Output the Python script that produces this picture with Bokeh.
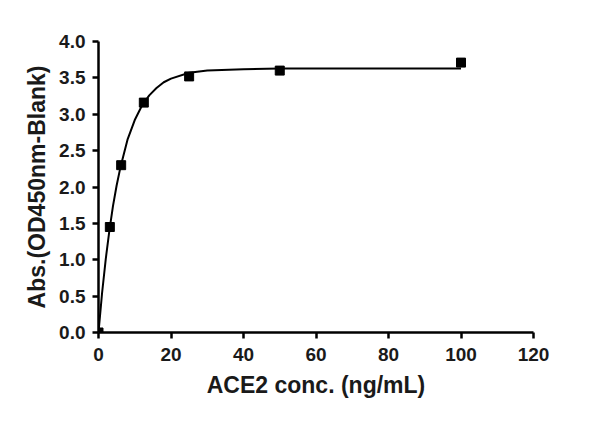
from bokeh.plotting import figure
from bokeh.embed import file_html
from bokeh.resources import INLINE
from bokeh.models import Range1d, FixedTicker

conc = [0, 3.125, 6.25, 12.5, 25, 50, 100]
absorb = [0.0, 1.45, 2.30, 3.16, 3.52, 3.60, 3.71]

fit_x = [0, 1, 2, 3, 4, 5, 6, 8, 10, 12, 14, 16, 18, 20, 25, 30, 40, 50, 60, 80, 100]
fit_y = [0.0, 0.55, 1.01, 1.40, 1.74, 2.02, 2.26, 2.65, 2.92, 3.12, 3.26, 3.36, 3.44,
         3.49, 3.57, 3.60, 3.62, 3.63, 3.63, 3.63, 3.63]

x_ticks = [0, 20, 40, 60, 80, 100, 120]
y_ticks = [0.0, 0.5, 1.0, 1.5, 2.0, 2.5, 3.0, 3.5, 4.0]

p = figure(width=584, height=406, output_backend="svg", toolbar_location=None,
           x_range=Range1d(0, 120), y_range=Range1d(0, 4),
           min_border_left=98, min_border_right=51, min_border_top=41, min_border_bottom=74)
p.outline_line_color = None
p.xgrid.visible = False
p.ygrid.visible = False

p.line(fit_x, fit_y, line_color="black", line_width=2)
p.scatter(conc, absorb, marker="square", size=9, fill_color="black", line_color="black")

for ax in (p.xaxis, p.yaxis):
    ax.axis_line_width = 2.5
    ax.axis_line_color = "black"
    ax.major_tick_line_width = 2.5
    ax.major_tick_line_color = "black"
    ax.major_tick_out = 6
    ax.major_tick_in = 0
    ax.minor_tick_line_color = None
    ax.major_label_text_font = "Liberation Sans"
    ax.major_label_text_font_style = "bold"
    ax.major_label_text_font_size = "19px"
    ax.major_label_text_color = "#1a1a1a"
    ax.axis_label_text_font = "Liberation Sans"
    ax.axis_label_text_font_style = "bold"
    ax.axis_label_text_font_size = "23px"
    ax.axis_label_text_color = "#1a1a1a"

p.xaxis.ticker = FixedTicker(ticks=x_ticks)
p.yaxis.ticker = FixedTicker(ticks=y_ticks)
p.yaxis.major_label_overrides = {t: f"{t:.1f}" for t in y_ticks}
p.xaxis.major_label_standoff = 9
p.yaxis.major_label_standoff = 7
p.xaxis.axis_label = "ACE2 conc. (ng/mL)"
p.yaxis.axis_label = "Abs.(OD450nm-Blank)"
p.xaxis.axis_label_standoff = 8
p.yaxis.axis_label_standoff = 6

open("out.html", "w").write(file_html(p, INLINE))
